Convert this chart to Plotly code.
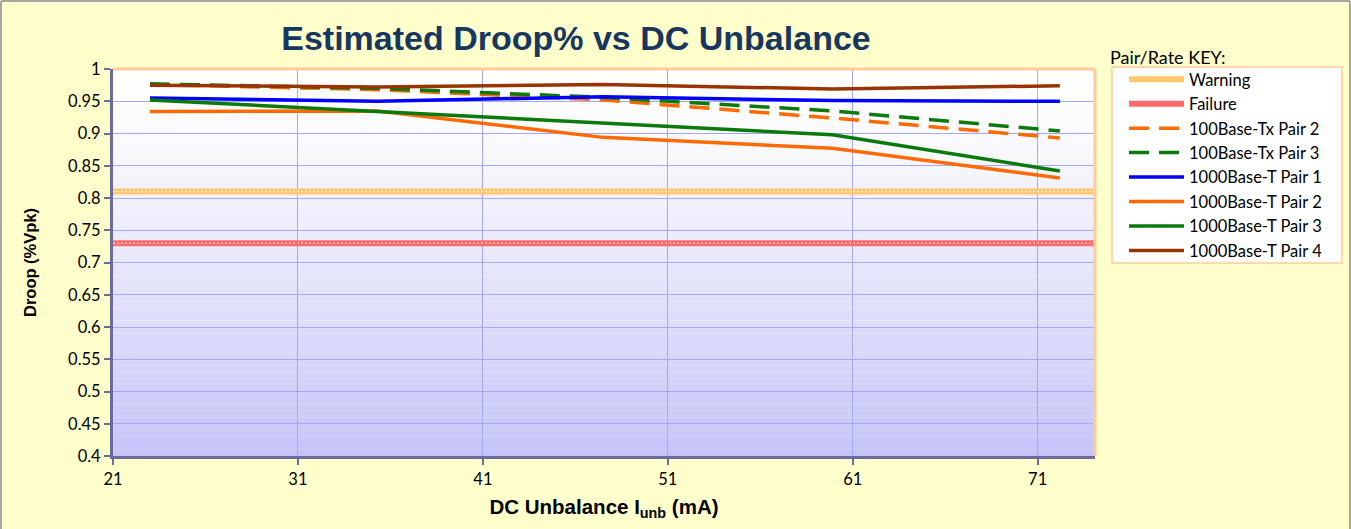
import plotly.graph_objects as go

x_vals = [23.0, 35.3, 47.5, 59.9, 72.2]
warning_level = 0.81
failure_level = 0.73
x_full = [21, 74.1]

series_names = ["100Base-Tx Pair 2", "100Base-Tx Pair 3", "1000Base-T Pair 1",
                "1000Base-T Pair 2", "1000Base-T Pair 3", "1000Base-T Pair 4"]
tx_pair2 = [0.976, 0.968, 0.952, 0.924, 0.893]
tx_pair3 = [0.977, 0.970, 0.956, 0.935, 0.904]
t_pair1 = [0.955, 0.950, 0.957, 0.951, 0.950]
t_pair2 = [0.934, 0.935, 0.894, 0.877, 0.831]
t_pair3 = [0.952, 0.934, 0.917, 0.898, 0.842]
t_pair4 = [0.975, 0.972, 0.976, 0.969, 0.974]

y_ticks = [0.4, 0.45, 0.5, 0.55, 0.6, 0.65, 0.7, 0.75, 0.8, 0.85, 0.9, 0.95, 1.0]
y_tick_text = ["0.4", "0.45", "0.5", "0.55", "0.6", "0.65", "0.7", "0.75", "0.8", "0.85", "0.9", "0.95", "1"]
x_ticks = [21, 31, 41, 51, 61, 71]

W, H = 1351, 529
L, R, T, B = 113, 256, 69, 73
pw, ph = W - L - R, H - T - B


def px_x(p):
    return (p - L) / pw


def px_y(p):
    return 1 - (p - T) / ph


fig = go.Figure()

# Warning / failure hatched bands
fig.add_trace(go.Scatter(x=x_full, y=[warning_level]*2, mode="lines", name="Warning",
                         line=dict(color="#FFC76A", width=6)))
fig.add_trace(go.Scatter(x=x_full, y=[warning_level]*2, mode="lines", showlegend=False,
                         line=dict(color="rgba(255,255,255,0.7)", width=1.5, dash="2px,2px"), hoverinfo="skip"))
fig.add_trace(go.Scatter(x=x_full, y=[failure_level]*2, mode="lines", name="Failure",
                         line=dict(color="#FF6B6B", width=6)))
fig.add_trace(go.Scatter(x=x_full, y=[failure_level]*2, mode="lines", showlegend=False,
                         line=dict(color="rgba(255,255,255,0.6)", width=1.5, dash="2px,2px"), hoverinfo="skip"))

styles = [
    (tx_pair2, "#FF6A00", "20px,10px"),
    (tx_pair3, "#0A7A0A", "20px,10px"),
    (t_pair1, "#0000FF", "solid"),
    (t_pair2, "#FF6A00", "solid"),
    (t_pair3, "#0A7A0A", "solid"),
    (t_pair4, "#993300", "solid"),
]
for name, (vals, col, dash) in zip(series_names, styles):
    fig.add_trace(go.Scatter(x=x_vals, y=vals, mode="lines", name=name,
                             line=dict(color=col, width=3.5, dash=dash)))

# gradient plot background
shapes = []
n = 60
for i in range(n):
    f = i / (n - 1)
    g = f ** 1.3
    r = int(round(255 - g * (255 - 196)))
    b = int(round(255 - g * (255 - 250)))
    shapes.append(dict(type="rect", xref="x domain", yref="y domain",
                       x0=0, x1=1, y0=1 - (i + 1) / n, y1=1 - i / n,
                       fillcolor=f"rgb({r},{r},{b})", line=dict(width=0), layer="below"))
# top/right orange frame
shapes.append(dict(type="line", xref="x domain", yref="y domain", x0=0, x1=1, y0=1, y1=1,
                   line=dict(color="#FFCC99", width=3)))
shapes.append(dict(type="line", xref="x domain", yref="y domain", x0=1, x1=1, y0=0, y1=1,
                   line=dict(color="#FFCC99", width=3)))
# outer figure border (left, top, right)
fx0, fx1 = px_x(1), px_x(W - 1)
fy0, fy1 = px_y(H), px_y(1)
for (a, b_, c, d) in [(fx0, fy0, fx0, fy1), (fx0, fy1, fx1, fy1), (fx1, fy0, fx1, fy1)]:
    shapes.append(dict(type="line", xref="paper", yref="paper", x0=a, y0=b_, x1=c, y1=d,
                       line=dict(color="#A6A6A6", width=2)))
# legend box
shapes.append(dict(type="rect", xref="paper", yref="paper",
                   x0=px_x(1112), x1=px_x(1342), y0=px_y(263), y1=px_y(67),
                   fillcolor="#FFFFFF", line=dict(color="#FFCC99", width=1.5), layer="below"))

fig.update_layout(
    width=W, height=H,
    margin=dict(l=L, r=R, t=T, b=B),
    paper_bgcolor="#FFFFCC",
    plot_bgcolor="rgba(0,0,0,0)",
    title=dict(text="<b>Estimated Droop% vs DC Unbalance</b>",
               font=dict(family="Liberation Sans", size=34, color="#17375E"),
               x=576 / W, xanchor="center", y=1 - 38 / H, yanchor="middle"),
    shapes=shapes,
    showlegend=True,
    legend=dict(x=px_x(1124), y=px_y(62), xanchor="left", yanchor="top",
                bgcolor="rgba(0,0,0,0)", borderwidth=0,
                font=dict(family="Lato", size=16.5, color="#000000"),
                itemwidth=55, tracegroupgap=0),
    annotations=[dict(text="Pair/Rate KEY:", xref="paper", yref="paper",
                      x=px_x(1108), y=px_y(57),
                      xanchor="left", yanchor="middle", showarrow=False,
                      font=dict(family="Lato", size=18, color="#000000"))],
    xaxis=dict(range=x_full, tickvals=x_ticks, showgrid=True, gridcolor="#A8A8F0", gridwidth=1,
               zeroline=False, showline=True, linecolor="#6B6B9E", linewidth=3,
               ticks="outside", ticklen=6, tickcolor="#6B6B9E", tickwidth=2,
               tickfont=dict(family="Lato", size=16.5, color="#000000"),
               title=dict(text="<b>DC Unbalance I<sub>unb</sub> (mA)</b>",
                          font=dict(family="Liberation Sans", size=20.5, color="#000000"), standoff=12)),
    yaxis=dict(range=[0.4, 1.0], tickvals=y_ticks, ticktext=y_tick_text, showgrid=True,
               gridcolor="#A8A8F0", gridwidth=1, zeroline=False, showline=True,
               linecolor="#6B6B9E", linewidth=3, ticks="outside", ticklen=6,
               tickcolor="#6B6B9E", tickwidth=2,
               tickfont=dict(family="Lato", size=16.5, color="#000000"),
               title=dict(text="<b>Droop (%Vpk)</b>",
                          font=dict(family="Liberation Sans", size=16.5, color="#000000"), standoff=28)),
)

fig.write_html("out.html", config={"displayModeBar": False},
               post_script="document.body.style.margin='0';document.body.style.overflow='hidden';")
